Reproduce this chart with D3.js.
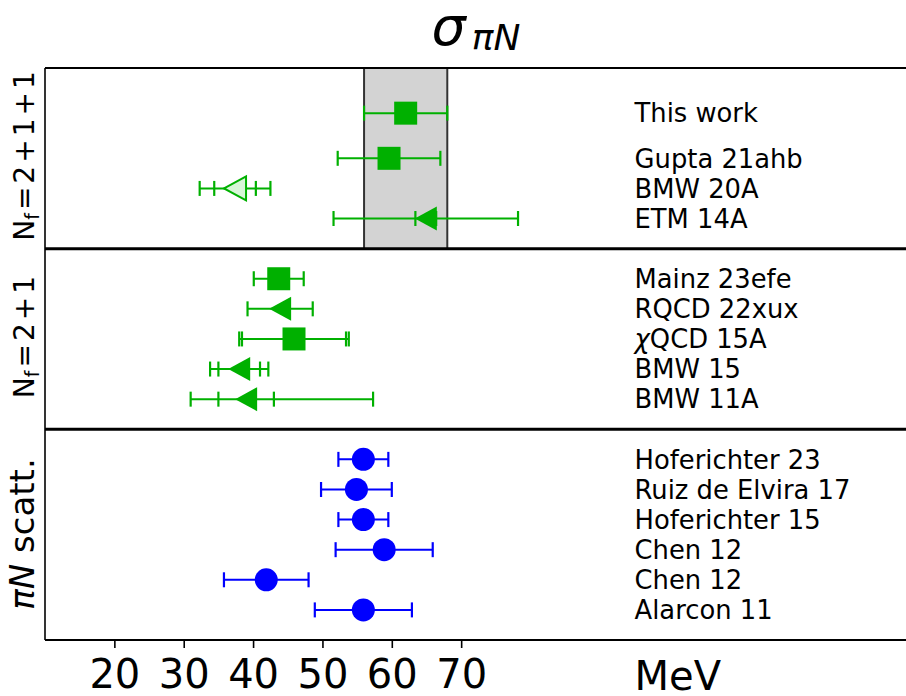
<!DOCTYPE html>
<html>
<head>
<meta charset="utf-8">
<script src="https://cdn.jsdelivr.net/npm/d3@7"></script>
<style>
  body { margin: 0; background: #fff; }
  svg { font-family: "DejaVu Sans", sans-serif; }
</style>
</head>
<body>
<svg id="chart" width="906" height="696"></svg>
<script>
// entries, top to bottom
const names = ["This work", "Gupta 21ahb", "BMW 20A", "ETM 14A",
  "Mainz 23efe", "RQCD 22xux", "\u03c7QCD 15A", "BMW 15", "BMW 11A",
  "Hoferichter 23", "Ruiz de Elvira 17", "Hoferichter 15", "Chen 12", "Chen 12", "Alarcon 11"];
const rows = [1.5, 3, 4, 5, 7, 8, 9, 10, 11, 13, 14, 15, 16, 17, 18];
const central = [62.0, 59.6, 37.4, 64.9, 43.7, 43.9, 45.9, 38.0, 39.0, 55.9, 54.9, 55.9, 58.9, 41.9, 55.9];
const errLo = [6.0, 7.4, 5.1, 13.3, 3.6, 4.7, 7.9, 4.2, 8.0, 3.6, 5.1, 3.6, 7.0, 6.1, 7.0];
const errHi = [6.0, 7.4, 5.1, 13.3, 3.6, 4.7, 7.9, 4.2, 18.3, 3.6, 5.1, 3.6, 7.0, 6.1, 7.0];
const statErr = [null, null, 3.0, 1.5, null, null, 7.5, 3.0, 4.0, null, null, null, null, null, null];
const shapes = ["square", "square", "triangleOpen", "triangle", "square", "triangle", "square", "triangle", "triangle",
  "circle", "circle", "circle", "circle", "circle", "circle"];
const groupOf = [0, 0, 0, 0, 1, 1, 1, 1, 1, 2, 2, 2, 2, 2, 2];
const groupColors = ["#00b000", "#00b000", "#0000ff"];
const separators = [6, 12];
const band = [56, 68];
const xTicks = [20, 30, 40, 50, 60, 70];
const xDomain = [10, 135];
const labelAt = 95;

const svg = d3.select("#chart");
const x = d3.scaleLinear().domain(xDomain).range([45, 912]);
const y = d3.scaleLinear().domain([0, 19]).range([68, 640]);

// band for this work
svg.append("rect")
  .attr("x", x(band[0])).attr("y", y(0))
  .attr("width", x(band[1]) - x(band[0])).attr("height", y(6) - y(0))
  .attr("fill", "#d3d3d3");
band.forEach(v => {
  svg.append("line").attr("x1", x(v)).attr("x2", x(v)).attr("y1", y(0)).attr("y2", y(6))
    .attr("stroke", "#333").attr("stroke-width", 2);
});

// frame
svg.append("line").attr("x1", x(xDomain[0])).attr("x2", 906).attr("y1", y(0)).attr("y2", y(0))
  .attr("stroke", "#000").attr("stroke-width", 2);
svg.append("line").attr("x1", x(xDomain[0])).attr("x2", 906).attr("y1", y(19)).attr("y2", y(19))
  .attr("stroke", "#000").attr("stroke-width", 2);
svg.append("line").attr("x1", x(xDomain[0])).attr("x2", x(xDomain[0])).attr("y1", y(0)).attr("y2", y(19))
  .attr("stroke", "#000").attr("stroke-width", 1.6);
separators.forEach(s => {
  svg.append("line").attr("x1", x(xDomain[0])).attr("x2", 906).attr("y1", y(s)).attr("y2", y(s))
    .attr("stroke", "#000").attr("stroke-width", 3);
});

// x axis
const xAxis = svg.append("g").attr("transform", `translate(0,${y(19)})`)
  .call(d3.axisBottom(x).tickValues(xTicks).tickSize(8).tickPadding(12).tickFormat(d3.format("d")));
xAxis.select(".domain").remove();
xAxis.selectAll(".tick line").attr("stroke-width", 1.6);
xAxis.selectAll("text").attr("font-size", 40).attr("font-family", "DejaVu Sans").attr("fill", "#000");

svg.append("text").attr("x", x(labelAt)).attr("y", 690).attr("font-size", 40).text("MeV");

// title
const title = svg.append("text").attr("x", 476).attr("y", 45).attr("text-anchor", "middle");
title.append("tspan").attr("font-size", 54).attr("font-style", "italic").text("\u03c3");
title.append("tspan").attr("font-size", 36).attr("font-style", "italic").attr("dx", 6).attr("dy", 5).text("\u03c0N");

// group labels
function groupLabel(cy, size, build) {
  const t = svg.append("text").attr("transform", `translate(34,${cy}) rotate(-90)`)
    .attr("text-anchor", "middle").attr("font-size", size);
  build(t);
}
function nfLabel(t, parts) {
  t.append("tspan").text("N");
  t.append("tspan").attr("font-size", 19).attr("dy", 5).text("f");
  parts.forEach((p, i) => t.append("tspan").attr("dx", 3).attr("dy", i === 0 ? -5 : 0).text(p));
}
groupLabel(156, 28, t => nfLabel(t, ["=", "2", "+", "1", "+", "1"]));
groupLabel(337, 28, t => nfLabel(t, ["=", "2", "+", "1"]));
groupLabel(534, 34, t => {
  t.append("tspan").attr("font-style", "italic").text("\u03c0N");
  t.append("tspan").text(" scatt.");
});

// entries
const capH = 7.5;
const data = names.map((n, i) => ({
  name: n, row: rows[i], c: central[i], lo: errLo[i], hi: errHi[i], stat: statErr[i],
  shape: shapes[i], color: groupColors[groupOf[i]]
}));

const g = svg.selectAll(".entry").data(data).enter().append("g").attr("class", "entry");
g.append("line")
  .attr("x1", d => x(d.c - d.lo)).attr("x2", d => x(d.c + d.hi))
  .attr("y1", d => y(d.row)).attr("y2", d => y(d.row))
  .attr("stroke", d => d.color).attr("stroke-width", 2);
g.each(function(d) {
  const sel = d3.select(this);
  const caps = [d.c - d.lo, d.c + d.hi];
  if (d.stat != null) caps.push(d.c - d.stat, d.c + d.stat);
  caps.forEach(v => {
    sel.append("line").attr("x1", x(v)).attr("x2", x(v))
      .attr("y1", y(d.row) - capH).attr("y2", y(d.row) + capH)
      .attr("stroke", d.color).attr("stroke-width", 2.2);
  });
  const cx = x(d.c), cy = y(d.row);
  if (d.shape === "square") {
    sel.append("rect").attr("x", cx - 11.5).attr("y", cy - 11.5).attr("width", 23).attr("height", 23)
      .attr("fill", d.color);
  } else if (d.shape === "circle") {
    sel.append("circle").attr("cx", cx).attr("cy", cy).attr("r", 11.5).attr("fill", d.color);
  } else {
    const p = d3.path();
    p.moveTo(cx - 11, cy); p.lineTo(cx + 11, cy - 12); p.lineTo(cx + 11, cy + 12); p.closePath();
    const open = d.shape === "triangleOpen";
    sel.append("path").attr("d", p.toString())
      .attr("fill", open ? "#d8f6d8" : d.color)
      .attr("stroke", d.color).attr("stroke-width", open ? 2 : 0)
      .attr("stroke-linejoin", "miter");
  }
  const t = sel.append("text").attr("x", x(labelAt)).attr("y", cy).attr("dy", "0.36em")
    .attr("font-size", 25.8).attr("fill", "#000");
  if (d.name.startsWith("\u03c7")) {
    t.append("tspan").attr("font-style", "italic").text("\u03c7");
    t.append("tspan").text(d.name.slice(1));
  } else {
    t.text(d.name);
  }
});
</script>
</body>
</html>
